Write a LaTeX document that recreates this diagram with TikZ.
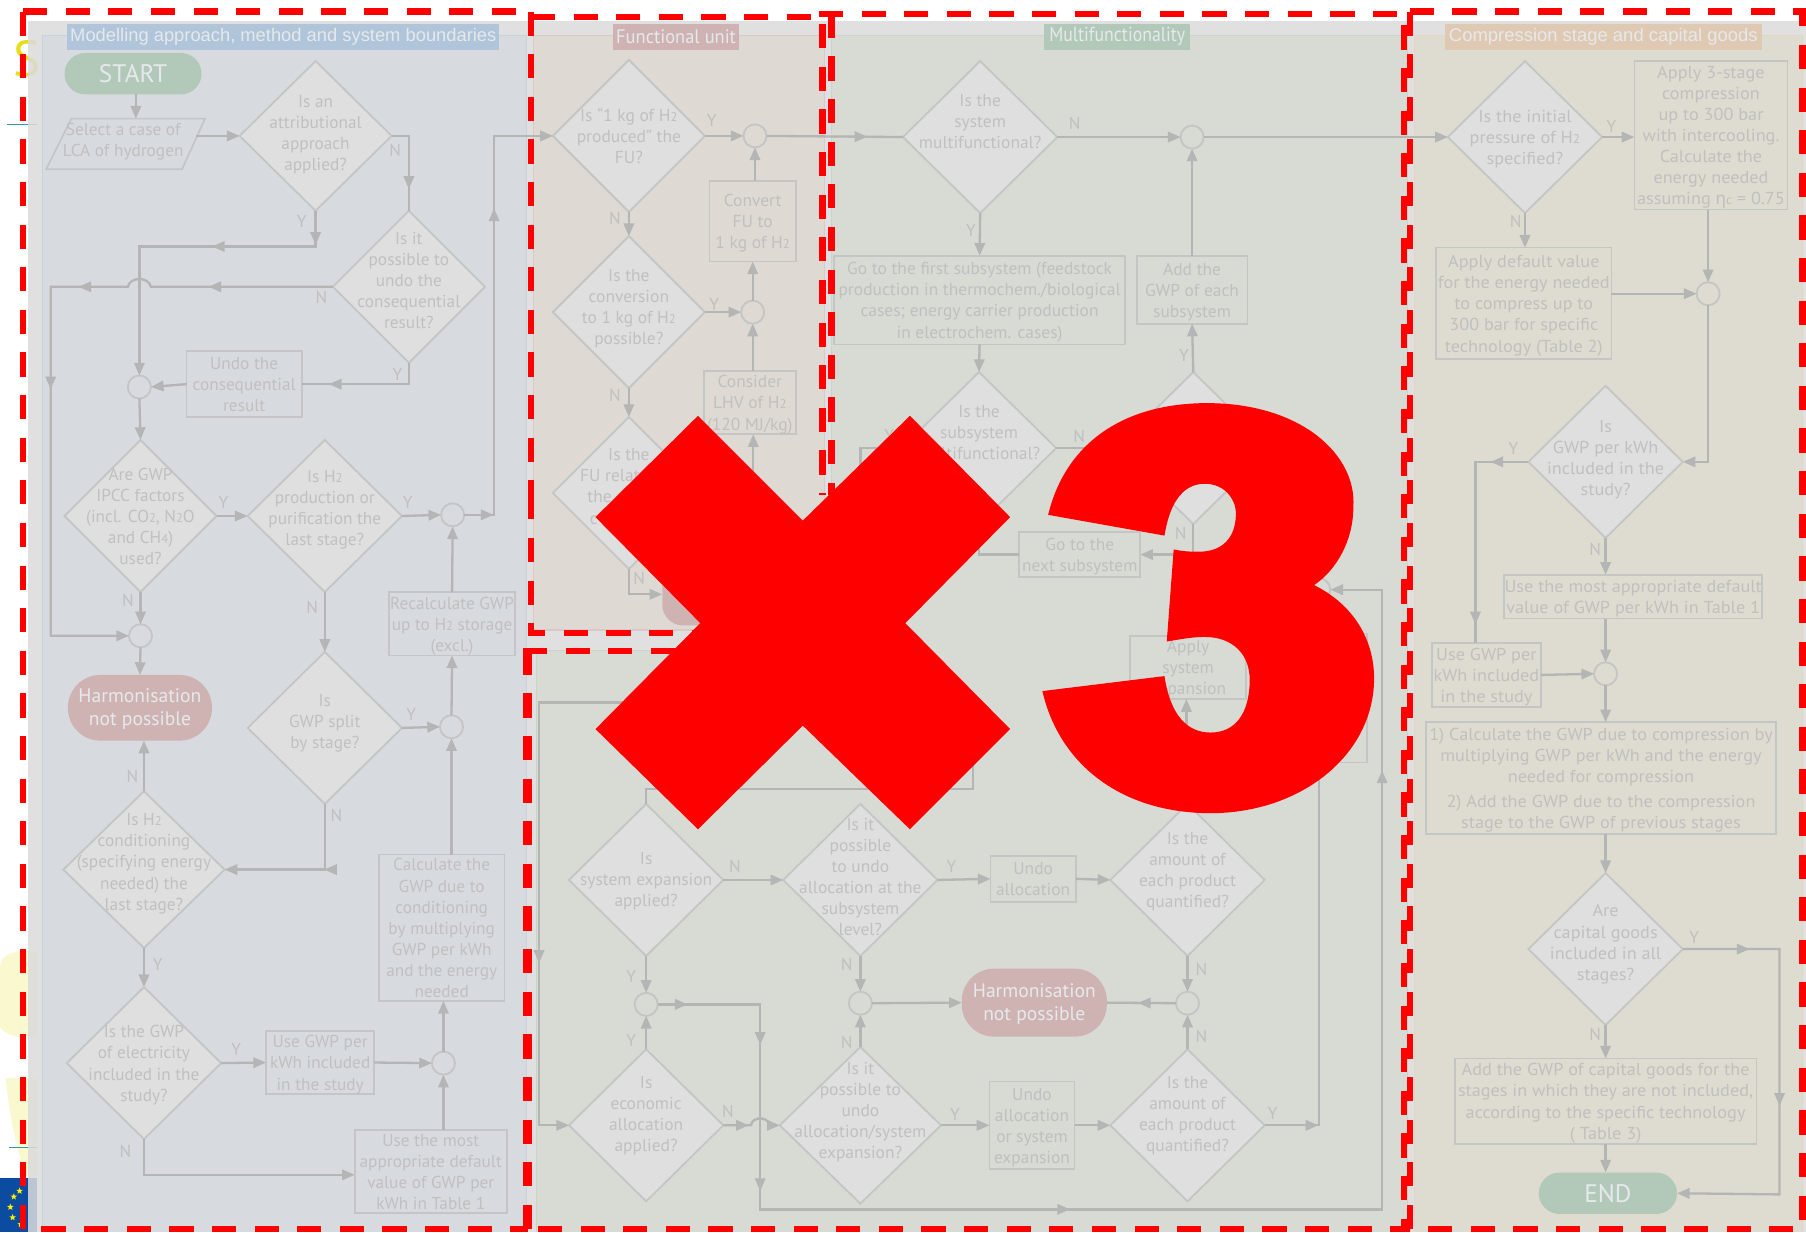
\documentclass[tikz,border=0pt]{standalone}
\usepackage{fontspec}
\usetikzlibrary{shapes.geometric,arrows.meta,decorations.markings}
\setmainfont{PT Sans}
\newfontfamily\famA{PT Sans}
\newfontfamily\famN[FakeStretch=1.01]{PT Sans}
\newfontfamily\famW[FakeStretch=1.055]{PT Sans}
\newfontfamily\grk{Noto Sans}
\newfontfamily\wid{Liberation Sans}
\definecolor{ln}{HTML}{B4B5B5}
\definecolor{bd}{HTML}{C4C6C5}
\definecolor{tx}{HTML}{BFC0BF}
\definecolor{dfill}{HTML}{DFDFDF}
\definecolor{ylw}{HTML}{F9F8CE}
\definecolor{eub}{HTML}{0B4CA0}
\definecolor{tealx}{HTML}{2F9AA8}
\definecolor{band}{HTML}{DBDBDB}
\definecolor{pB}{HTML}{D7DBDF}
\definecolor{pBb}{HTML}{C6D2DC}
\definecolor{pF}{HTML}{DED9D3}
\definecolor{pFb}{HTML}{DCC8C8}
\definecolor{pG}{HTML}{D8DAD4}
\definecolor{pGb}{HTML}{C6D6CC}
\definecolor{pC}{HTML}{DEDCD0}
\definecolor{pCb}{HTML}{E2D5C4}
\definecolor{HTMLa}{HTML}{B0C4DA}
\definecolor{HTMLb}{HTML}{CFB3B3}
\definecolor{HTMLc}{HTML}{B2C9B9}
\definecolor{HTMLd}{HTML}{DFC9B3}
\definecolor{HTMLw}{HTML}{E6E9EC}
\newcommand\dt[2][0]{\smash{\makebox[0pt]{\raisebox{\dimexpr#1pt-5.5pt\relax}{\begin{tabular}{@{}c@{}}#2\end{tabular}}}}}
\newcommand\tw{{\fontsize{11}{11}\selectfont 2}}
\newcommand\dia[7]{\pgfmathsetmacro\wxx{2*#4}\pgfmathsetmacro\hxx{2*#5}\node[dmd,minimum width=\wxx pt,minimum height=\hxx pt] (#1) at (#2,#3) {\dt[#6]{#7}};}
\newcommand\bxn[6]{\pgfmathsetmacro\cxx{(#2+#4)/2}\pgfmathsetmacro\cyy{(#3+#5)/2}\pgfmathsetmacro\wxx{#4-#2}\pgfmathsetmacro\hxx{#5-#3}\node[bxs,minimum width=\wxx pt,minimum height=\hxx pt] (#1) at (\cxx,\cyy) {\dt{#6}};}
\newcommand\ccl[3]{\node[ccs] (#1) at (#2,#3) {};}
\newcommand\lb[3]{\node[lbs] (l#1-#2) at (#1,#2) {#3};}
\tikzset{
 tipa/.tip={Triangle[length=11pt,width=9pt]},
 dmd/.style={diamond,draw=bd,fill=dfill,line width=1.6pt,inner sep=0pt,outer sep=0pt,text=tx},
 bxs/.style={rectangle,draw=bd,line width=1.5pt,inner sep=0pt,outer sep=0pt,text=tx},
 ccs/.style={circle,draw=bd,line width=1.6pt,minimum size=20pt,inner sep=0pt,outer sep=0pt},
 lbs/.style={inner sep=0pt,text=tx,font=\famA\fontsize{15}{18}\selectfont},
 cn/.style={draw=ln,line width=2pt,line join=miter},
 ar/.style={cn,-{tipa}},
 mk/.style={postaction={decorate,decoration={markings,mark=at position #1 with {\arrow[ln]{tipa}}}}},
 pill/.style={rounded corners=18pt,inner sep=0pt,outer sep=0pt},
 harmst/.style={pill,rounded corners=28pt,fill=HTMLb,text=HTMLw,font=\famA\fontsize{17}{20}\selectfont},
 rd/.style={draw=red,line width=5.5pt,dash pattern=on 21pt off 16pt},
 secA/.style={every node/.append style={font=\famA\fontsize{15}{18.3}\selectfont}},
 secN/.style={every node/.append style={font=\famN\fontsize{15}{18.3}\selectfont}},
 secW/.style={every node/.append style={font=\famW\fontsize{15}{18.3}\selectfont}},
}
\begin{document}
\begin{tikzpicture}[x=1pt,y=-1pt]
\useasboundingbox (0,0) rectangle (1568,1070);
% left-edge remains
\fill[white] (0,0) rectangle (1568,1070);
\node[inner sep=0pt,text=yellow!90!black,font=\famA\fontsize{44}{44}\selectfont] (sletter) at (23,51) {S};
\fill[ylw] (32,826) .. controls (10,824) and (0,830) .. (0,840) -- (0,892) .. controls (6,900) and (20,902) .. (32,900) -- cycle;
\fill[ylw] (5,936) -- (32,936) -- (32,1020) -- (24,1023) .. controls (14,1000) and (8,965) .. (5,936) -- cycle;
\fill[eub] (0,1023) rectangle (32,1070);
\draw[tealx,line width=1pt] (6,108) -- (32,108);
\draw[tealx,line width=1pt] (8,996) -- (32,996);
\foreach \px/\py in {12/1039,9/1048,11/1057,17/1034,18/1063}
  \node[star,star points=5,star point ratio=2.4,fill=yellow,inner sep=0pt,minimum size=6pt] (st\py) at (\px,\py) {};
\fill[band,fill opacity=.85] (24,18) rectangle (1568,1070);
% panels
\fill[pB] (37,31) rectangle (457,1070);
\draw[pBb,line width=1pt] (37,1070) -- (37,31) -- (457,31) -- (457,1070);
\fill[pF] (463,31) rectangle (716,547);
\draw[pFb,line width=1pt] (463,31) rectangle (716,547);
\fill[pG] (722,31) rectangle (1222,565);
\fill[pG] (466,565) rectangle (1222,1070);
\draw[pGb,line width=1pt] (466,1070) -- (466,565) -- (722,565) -- (722,31) -- (1222,31) -- (1222,1070);
\fill[pC] (1228,31) rectangle (1565,1070);
\draw[pCb,line width=1pt] (1228,1070) -- (1228,31) -- (1565,31) -- (1565,1070);
% section titles
\node[inner sep=0pt,fill=HTMLa,minimum width=375pt,minimum height=22pt] (tA) at (246,32) {\resizebox{370pt}{11.5pt}{\color{HTMLw}\wid Modelling approach, method and system boundaries}};
\node[inner sep=0pt,fill=HTMLb,minimum width=110pt,minimum height=22pt] (tB) at (587,32) {\resizebox{104pt}{12pt}{\color{HTMLw}\famN Functional unit}};
\node[inner sep=0pt,fill=HTMLc,minimum width=127pt,minimum height=22pt] (tC) at (970,32) {\resizebox{118pt}{12.5pt}{\color{HTMLw}\famN Multifunctionality}};
\node[inner sep=0pt,fill=HTMLd,minimum width=275pt,minimum height=22pt] (tD) at (1392,32) {\resizebox{268pt}{11.5pt}{\color{HTMLw}\wid Compression stage and capital goods}};

\begin{scope}[secA]
\node[pill,fill=HTMLc,minimum width=119pt,minimum height=36pt,text=HTMLw,font=\famA\fontsize{22}{22}\selectfont] (START) at (115.5,64) {START};
\draw[bd,line width=1.5pt] (62,103) -- (178,103) -- (158,147) -- (40,147) -- cycle;
\node[inner sep=0pt,text=tx] (sel) at (107,125) {\dt[3.7]{Select a case of\\LCA of hydrogen}};
\coordinate (selin) at (118,103);
\coordinate (selout) at (170,118);
\dia{D1}{274}{118}{66}{65}{3}{Is an\\attributional\\approach\\applied?}
\dia{D2}{355}{249}{66}{66}{6}{Is it\\possible to\\undo the\\consequential\\result?}
\bxn{undo}{162}{305}{262}{362}{Undo the\\consequential\\result}
\ccl{c1}{121}{336}
\dia{D3}{122}{448}{66}{66}{0}{Are GWP\\IPCC factors\\(incl. CO\tw, N\tw O\\and CH{\fontsize{11}{11}\selectfont 4})\\used?}
\dia{D4}{282}{448}{67}{66}{7}{Is H\tw\\production or\\purification the\\last stage?}
\ccl{c3}{393}{447}
\bxn{recalc}{338}{514}{447}{569}{Recalculate GWP\\up to H\tw\ storage\\(excl.)}
\ccl{c2}{122}{552}
\node[harmst,minimum width=125pt,minimum height=57pt] (harmA) at (121.5,614.5) {\dt{Harmonisation\\not possible}};
\dia{D5}{282}{632}{67}{66}{6}{Is\\GWP split\\by stage?}
\ccl{c4}{392}{631}
\dia{D6}{125}{755}{70}{68}{7}{Is H\tw\\conditioning\\(specifying energy\\needed) the\\last stage?}
\bxn{calc}{329}{742}{438}{869}{Calculate the\\GWP due to\\conditioning\\by multiplying\\GWP per kWh\\and the energy\\needed}
\dia{D7}{125}{923}{67}{66}{0}{Is the GWP\\of electricity\\included in  the\\study?}
\bxn{usegwp}{231}{895}{325}{950}{Use GWP per\\kWh included\\in the study}
\ccl{c5}{385}{923}
\bxn{most}{308}{981}{440}{1053}{Use the most\\appropriate default\\value of GWP per\\kWh in Table 1}
\end{scope}

\begin{scope}[secN]
\dia{D8}{546}{118}{66}{66}{0}{Is “1 kg of H\tw\\produced” the\\FU?}
\ccl{c6}{655.5}{118}
\bxn{conv}{616}{157}{691}{227}{Convert\\FU to\\1 kg of H\tw}
\dia{D9}{546}{271}{66}{66}{5}{Is the\\conversion\\to 1 kg of H\tw\\possible?}
\ccl{c7}{653.5}{271}
\bxn{cons}{611}{322}{691}{377}{Consider\\LHV of H\tw\\(120 MJ/kg)}
\dia{D10}{546}{428}{66}{66}{6}{Is the\\FU relat\phantom{ed to}\\the\hspace*{51pt}\\c\hspace*{61pt}}
\node[pill,fill=HTMLb,minimum width=125pt,minimum height=56pt] (harmF) at (637.5,515) {};
\dia{D11}{851}{119}{67}{66}{14}{Is the\\system\\multifunctional?}
\ccl{c8}{1035}{119}
\bxn{first}{724}{222}{977}{299}{Go to the first subsystem (feedstock\\production in thermochem./biological\\cases; energy carrier production\\in electrochem. cases)}
\bxn{addg}{987}{222}{1083}{281}{Add the\\GWP of each\\subsystem}
\dia{D12}{850}{389}{67}{66}{14}{Is the\\subsystem\\multifunctional?}
\dia{D13}{1036}{389}{67}{66}{0}{}
\bxn{go}{885}{462}{990}{501}{Go to the\\next subsystem}
\ccl{c9}{1145}{512}
\bxn{apply}{981}{552}{1082}{607}{Apply\\system\\expansion}
\node[draw=bd,line width=1.2pt,minimum width=92pt,minimum height=112pt,inner sep=0pt,outer sep=0pt] (hbox) at (1141,606) {};
\dia{D14}{561}{764}{67}{66}{1}{Is\\system expansion\\applied?}
\dia{D16}{747}{764}{67}{66}{3}{Is it\\possible\\to undo\\allocation at the\\subsystem\\level?}
\bxn{undoA}{860}{743}{934}{783}{Undo\\allocation}
\dia{D17}{1031}{764}{67}{66}{9}{Is the\\amount of\\each product\\quantified?}
\ccl{c10}{561}{872}
\ccl{c11}{747}{871}
\ccl{c12}{1031}{871}
\node[harmst,minimum width=126pt,minimum height=59pt] (harmB) at (898,870.5) {\dt{Harmonisation\\not possible}};
\dia{D18}{561}{977}{67}{66}{10}{Is\\economic\\allocation\\applied?}
\dia{D19}{747}{977}{70}{68}{13}{Is it\\possible to\\undo\\allocation/system\\expansion?}
\bxn{undoB}{859}{939}{933}{1015}{Undo\\allocation\\or system\\expansion}
\dia{D20}{1031}{977}{67}{66}{10}{Is the\\amount of\\each product\\quantified?}
\end{scope}

\begin{scope}[secW]
\dia{D15}{1324}{119}{67}{66}{0}{Is the initial\\pressure of H\tw\\specified?}
\bxn{app3}{1419}{53}{1552}{182}{Apply 3-stage\\compression\\up to 300 bar\\with intercooling.\\Calculate the\\energy needed\\assuming {\grk η}{\fontsize{11}{11}\selectfont c} = 0.75}
\bxn{defv}{1247}{215}{1399}{312}{Apply default value\\for the energy needed\\to compress up to\\300 bar for specific\\technology (Table 2)}
\ccl{c13}{1483}{255}
\dia{D21}{1394}{401}{67}{66}{4}{Is\\GWP per kWh\\included in the\\study?}
\bxn{most2}{1306}{499}{1530}{537}{Use the most appropriate default\\value of GWP per kWh in Table 1}
\bxn{use2}{1243}{558}{1338}{614}{Use GWP per\\kWh included\\in the study}
\ccl{c14}{1394}{585}
\bxn{calc2}{1238}{627}{1542}{724}{1) Calculate the GWP due to compression by\\multiplying  GWP per kWh and the energy\\needed for compression\\[3pt] 2) Add the GWP due to the compression\\stage to the GWP of previous stages}
\dia{D22}{1394}{824}{67}{66}{6}{Are\\capital goods\\included in all\\stages?}
\bxn{addc}{1263}{919}{1525}{993}{Add the GWP of capital goods for the\\stages in which they are not included,\\according to the specific technology\\( Table 3)}
\node[pill,fill=HTMLc,minimum width=120pt,minimum height=36pt,text=HTMLw,font=\famA\fontsize{22}{22}\selectfont] (END) at (1396,1036) {END};
\end{scope}

% connectors: modelling panel
\draw[ar] (selin |- START.south) -- (selin);
\draw[ar] (selout) -- (D1.west);
\draw[cn,mk=61pt] (D1.east) -| (D2.north);
\draw[ar,mk=29.5pt,mk=121pt] (D1.south) -- (274,214) -- (121,214) -- (c1.north);
\draw[ar,mk=108pt,mk=227pt,mk=340pt] (D2.west) -- (131,249) .. controls (129,240) and (113,240) .. (111,249) -- (44,249) -- (44,552) -- (c2.west);
\draw[cn,mk=88pt] (D2.south) |- (undo.east);
\draw[ar] (undo.west) -- (c1.east);
\draw[ar] (c1.south) -- (D3.north);
\draw[ar] (D3.east) -- (D4.west);
\draw[ar] (D4.east) -- (c3.west);
\draw[ar,mk=25.5pt,mk=292pt] (c3.east) -- (429,447) -- (429,118) -- (D8.west);
\draw[ar] (recalc.north) -- (c3.south);
\draw[ar] (c4.north) -- (recalc.south);
\draw[ar] (D3.south) -- (c2.north);
\draw[ar] (c2.south) -- (harmA.north);
\draw[ar] (D4.south) -- (D5.north);
\draw[ar] (D5.east) -- (c4.west);
\draw[ar] (c4 |- calc.north) -- (c4.south);
\draw[ar] (c5.north) -- (c5 |- calc.south);
\draw[ar,mk=57.5pt] (D5.south) |- (D6.east);
\draw[ar] (D6.north) -- (D6.north |- harmA.south);
\draw[ar] (D6.south) -- (D7.north);
\draw[ar] (D7.east) -- (usegwp.west);
\draw[ar] (usegwp.east) -- (c5.west);
\draw[ar] (c5 |- most.north) -- (c5.south);
\coordinate (mostin) at (308,1020);
\draw[ar] (D7.south) |- (mostin);
% functional unit
\draw[ar] (D8.east) -- (c6.west);
\draw[ar] (D8.south) -- (D9.north);
\draw[ar] (D9.south) -- (D10.north);
\draw[ar] (D9.east) -- (c7.west);
\draw[ar] (c6 |- conv.north) -- (c6.south);
\draw[ar] (c7.north) -- (c7 |- conv.south);
\draw[ar] (c7 |- cons.north) -- (c7.south);
\coordinate (consin) at (654,377);
\draw[ar] (D10.east) -| (consin);
\coordinate (harmFin) at (575,516);
\draw[ar] (D10.south) |- (harmFin);
\draw[cn,mk=87.5pt] (c6.east) -- (D11.west);
% multifunctionality upper
\draw[ar] (D11.east) -- (c8.west);
\draw[ar] (D11.south) -- (first.north);
\draw[ar] (first.south) -- (D12.north);
\draw[ar] (addg.north) -- (addg.north |- c8.south);
\draw[ar] (D13.north) -- (addg.south);
\draw[ar] (D12.east) -- (D13.west);
\draw[ar] (D13.south) |- (go.east);
\draw[cn] (go.west) -| (D12.south);
\draw[ar] (c8.east) -- (D15.west);
\draw[ar,mk=762pt] (D12.west) -- (747,389) -- (747,610) -- (468,610) -- (468,977) -- (D18.west);
\coordinate (sysup) at (845,640);
\draw[cn] (D14.north) -- (561,685) -- (845,685) -- (sysup);
\draw[ar,mk=46.5pt] (D20.east) -- (1145,977) -- (1145,650) -- (1030,650) -- (1030,607);
% multifunctionality lower
\draw[ar] (D14.east) -- (D16.west);
\draw[ar] (D16.east) -- (undoA.west);
\draw[ar] (undoA.east) -- (D17.west);
\draw[ar] (D17.south) -- (c12.north);
\draw[ar] (D20.north) -- (c12.south);
\draw[cn,mk=33pt] (c12.west) -- (harmB.east);
\draw[ar] (c11.east) -- (harmB.west);
\draw[ar] (D16.south) -- (c11.north);
\draw[ar] (D19.north) -- (c11.south);
\draw[ar] (D14.south) -- (c10.north);
\draw[ar] (D18.north) -- (c10.south);
\draw[ar,mk=26pt,mk=124pt,mk=251pt,mk=536pt,mk=1188pt] (c10.east) -- (660,872) -- (660,1050) -- (1200,1050) -- (1200,512) -- (c9.east);
\draw[ar,mk=22pt] (D18.east) -- (652,977) .. controls (653,969) and (667,969) .. (668,977) -- (D19.west);
\draw[ar] (D19.east) -- (undoB.west);
\draw[ar] (undoB.east) -- (D20.west);
% compression panel
\draw[ar] (D15.east) -- (app3.west |- D15.east);
\draw[ar] (D15.south) -- (D15.south |- defv.north);
\draw[ar] (defv.east |- c13.west) -- (c13.west);
\draw[ar] (c13 |- app3.south) -- (c13.north);
\draw[ar] (c13.south) |- (D21.east);
\coordinate (usein) at (1281,558);
\draw[cn,mk=33pt,mk=187pt] (D21.west) -| (usein);
\draw[ar] (D21.south) -- (D21.south |- most2.north);
\draw[ar] (c14 |- most2.south) -- (c14.north);
\draw[ar] (use2.east) -- (c14.west);
\draw[ar] (c14.south) -- (c14 |- calc2.north);
\draw[ar] (c14 |- calc2.south) -- (D22.north);
\draw[ar] (D22.south) -- (D22.south |- addc.north);
\draw[ar] (D22.south |- addc.south) -- (D22.south |- END.north);
\draw[ar,mk=58pt,mk=220pt] (D22.east) -- (1545,824) -- (1545,1037) -- (END.east);
% labels
\lb{262}{192}{Y}\lb{343}{131}{N}\lb{279}{258}{N}\lb{345}{325}{Y}
\lb{194}{436}{Y}\lb{354}{436}{Y}\lb{111}{521}{N}\lb{271}{527}{N}
\lb{357}{620}{Y}\lb{292}{708}{N}\lb{115}{674}{N}\lb{137}{837}{Y}
\lb{205}{911}{Y}\lb{109}{1000}{N}
\lb{618}{105}{Y}\lb{534}{190}{N}\lb{620}{264}{Y}\lb{534}{343}{N}\lb{555}{502}{N}
\lb{933}{107}{N}\lb{843}{200}{Y}\lb{772}{378}{Y}\lb{937}{379}{N}\lb{1028}{309}{Y}\lb{1025}{463}{N}
\lb{638}{752}{N}\lb{826}{752}{Y}\lb{1043}{842}{N}\lb{1043}{900}{N}\lb{735}{837}{N}\lb{735}{905}{N}
\lb{548}{848}{Y}\lb{548}{903}{Y}\lb{632}{965}{N}\lb{829}{968}{Y}\lb{1105}{967}{Y}
\lb{1399}{110}{Y}\lb{1316}{192}{N}\lb{1314}{389}{Y}\lb{1385}{477}{N}\lb{1471}{814}{Y}\lb{1385}{898}{N}
% red dashed outlines
\draw[rd] (20,10) -- (460,10);
\draw[rd] (20,10) -- (20,1067) -- (458,1067);
\draw[rd] (461,10) -- (461,430);
\draw[rd] (461,15) -- (714,15) -- (714,430);
\draw[rd] (461,430) -- (461,549.5) -- (610,549.5);
\draw[rd] (711,12) -- (1219,12) -- (1219,1067) -- (458,1067);
\draw[rd] (722,12) -- (722,430);
\draw[rd,line width=8.5pt] (458,565) -- (458,1067);
\draw[rd] (454,565) -- (600,565);
\draw[rd] (1224,10) -- (1565,10) -- (1565,1067) -- (1224,1067) -- (1224,10);
% x3
\fill[red] (606,361) -- (697,452) -- (790,361) -- (877,449) -- (786,541) -- (877,633) -- (790,720) -- (697,630) -- (606,720) -- (517,633) -- (608,541) -- (517,449) -- cycle;
\fill[red] (910,447) .. controls (925,385) and (975,350) .. (1048,350)
  .. controls (1130,350) and (1178,395) .. (1175,440)
  .. controls (1175,470) and (1160,495) .. (1141,508)
  .. controls (1175,525) and (1193,555) .. (1193,589)
  .. controls (1193,655) and (1130,706) .. (1051,706)
  .. controls (975,706) and (920,665) .. (905,600)
  -- (1011,587)
  .. controls (1016,620) and (1030,636) .. (1051,636)
  .. controls (1072,636) and (1085,620) .. (1085,590)
  .. controls (1085,568) and (1070,553) .. (1046,553)
  .. controls (1035,553) and (1025,555) .. (1013,557)
  -- (1019,477)
  .. controls (1028,479) and (1035,479) .. (1041,479)
  .. controls (1060,479) and (1073,468) .. (1073,446)
  .. controls (1073,432) and (1062,420) .. (1046,420)
  .. controls (1025,420) and (1015,440) .. (1011,465)
  -- cycle;
\end{tikzpicture}
\end{document}
